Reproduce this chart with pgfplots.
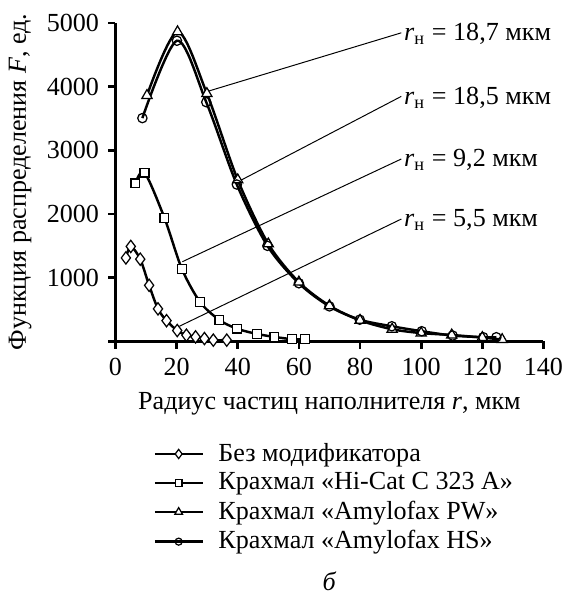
\documentclass[border=0pt]{standalone}
\usepackage{fontspec}
\setmainfont{Liberation Serif}
\usepackage{pgfplots}
\pgfplotsset{compat=1.18}

\begin{document}
\fontsize{10.6}{12.7}\selectfont
\begin{tikzpicture}
\begin{axis}[
    scale only axis,
    width=174pt, height=129.5pt,
    xmin=0, xmax=140, ymin=0, ymax=5000,
    axis lines=left,
    axis line style={-, line width=1.1pt},
    xtick={0,20,...,140},
    ytick={0,1000,...,5000},
    yticklabels={,1000,2000,3000,4000,5000},
    tick align=outside,
    major tick length=3pt,
    tick style={line width=1.1pt, black},
    /pgf/number format/assume math mode=true,
    scaled y ticks=false,
    yticklabel style={/pgf/number format/1000 sep={}},
    xlabel={Радиус частиц наполнителя \textit{r}, мкм},
    ylabel={Функция распределения \textit{F}, ед.},
    xlabel style={yshift=0.4pt},
    ylabel style={yshift=-1pt},
    clip=false,
    legend cell align=left,
    legend style={draw=none, fill=none, at={(axis description cs:0.088,-0.302)}, anchor=north west,
        row sep=-1pt, inner sep=0pt},
    legend image code/.code={
        \draw[mark repeat=2, mark phase=2, #1] plot coordinates {(0cm,0cm) (0.34cm,0cm) (0.68cm,0cm)};
    },
    legend image post style={every mark/.append style={scale=0.75}},
    every axis plot/.append style={line width=1pt, black, smooth,
        mark options={solid, fill=white, line width=0.5pt}},
]
\addplot[mark=diamond*, mark size=2.5pt] coordinates {
    (3.4,1310) (5,1490) (8.1,1290) (11,880) (13.9,510) (16.7,325) (20.2,170)
    (23.2,97) (26.2,70) (29.1,44) (32,19) (36.4,19)
};
\addlegendentry{\hspace{4pt}Без модификатора}
\addplot[mark=square*, mark size=1.8pt] coordinates {
    (6.5,2480) (9.5,2650) (16,1940) (21.7,1140) (27.7,616) (34,335) (39.7,200)
    (46.2,117) (52,70) (57.8,34) (62,34)
};
\addlegendentry{\hspace{4pt}Крахмал «Hi-Cat C 323 A»}
\addplot[mark=triangle*, mark size=2.4pt] coordinates {
    (10.3,3860) (20.3,4860) (29.9,3890) (40,2535) (50,1530) (60,930) (70,560)
    (80,330) (90.5,190) (100,130) (110,100) (120,60) (126.5,28)
};
\addlegendentry{\hspace{4pt}Крахмал «Amylofax PW»}
\addplot[mark=o, mark size=1.9pt] coordinates {
    (8.8,3505) (20.1,4720) (29.7,3755) (39.7,2462) (49.7,1500) (60,912) (70,549)
    (79.9,340) (90.4,237) (100.2,159) (110.3,91) (120.3,65) (124.6,65)
};
\addlegendentry{\hspace{4pt}Крахмал «Amylofax HS»}

\draw[line width=0.4pt] (axis cs:30.5,3930) -- (axis cs:93.5,4844)
    node[right, inner sep=1pt, yshift=-0.4pt] {\textit{r}\textsubscript{н} = 18,7 мкм};
\draw[line width=0.4pt] (axis cs:40.8,2524) -- (axis cs:93.5,3846)
    node[right, inner sep=1pt, yshift=-0.4pt] {\textit{r}\textsubscript{н} = 18,5 мкм};
\draw[line width=0.4pt] (axis cs:21.9,1251) -- (axis cs:93.5,2863)
    node[right, inner sep=1pt, yshift=-0.4pt] {\textit{r}\textsubscript{н} = 9,2 мкм};
\draw[line width=0.4pt] (axis cs:20.9,237) -- (axis cs:93.5,1920)
    node[right, inner sep=1pt, yshift=-0.4pt] {\textit{r}\textsubscript{н} = 5,5 мкм};

\node[inner sep=1.5pt] at (axis description cs:0.5,-0.752) {\textit{б}};
\path (axis description cs:0,1) ++(0,9.3pt) coordinate (topmargin);
\end{axis}
\end{tikzpicture}
\end{document}
